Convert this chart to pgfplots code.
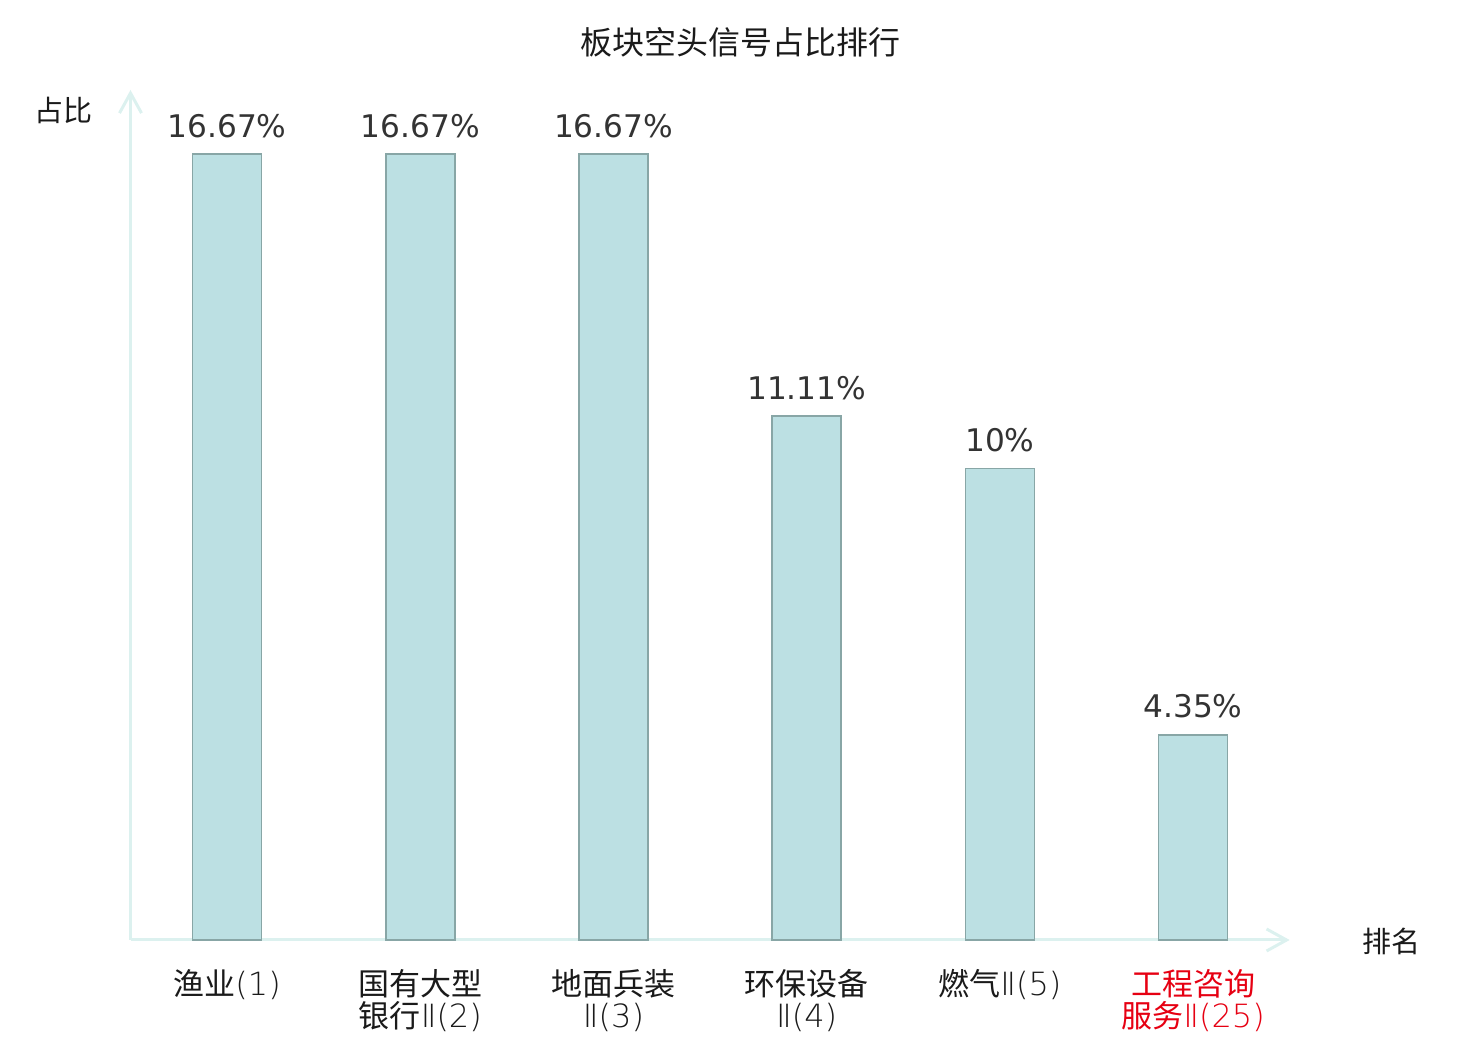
\documentclass[border=0pt]{standalone}
\usepackage{pgfplots}
\pgfplotsset{compat=1.18}
\usetikzlibrary{arrows.meta}
\usepackage{fontspec}
\setmainfont{DejaVu Sans}
\newfontfamily\cjk{Noto Sans CJK SC}
\newfontfamily\thin{DejaVu Sans ExtraLight}
\newcommand{\lat}[1]{{\thin\fontsize{16}{16}\selectfont #1}}
\definecolor{barfill}{HTML}{BCE0E3}
\definecolor{baredge}{HTML}{88A6A6}
\definecolor{axiscol}{HTML}{DCF1EF}
\definecolor{valtext}{HTML}{333333}
\definecolor{lbltext}{HTML}{1A1A1A}
\definecolor{hlred}{HTML}{E60012}
\begin{document}
\begin{tikzpicture}
\path[use as bounding box] (0,0) rectangle (740pt,520pt);
\begin{axis}[
  at={(65.25pt,50pt)}, anchor=south west,
  scale only axis, width=579.6pt, height=425pt,
  xmin=-0.5, xmax=5.5, ymin=0, ymax=18.03,
  axis lines=left,
  axis line style={draw=axiscol, line width=1.5pt, -{Straight Barb[length=10pt,width=11pt,line width=1.5pt]}},
  clip=false,
  xtick={0,1,2,3,4,5},
  xticklabels={{渔业\lat{(1)}},{国有大型\\银行\lat{Ⅱ(2)}},{地面兵装\\\lat{Ⅱ(3)}},{环保设备\\\lat{Ⅱ(4)}},{燃气\lat{Ⅱ(5)}},{\color{hlred}工程咨询\\\color{hlred}服务\lat{Ⅱ(25)}}},
  xticklabel style={font=\cjk\fontsize{15.5}{16}\selectfont, text=lbltext, align=center, anchor=north, yshift=-11pt},
  major tick length=0pt,
  ytick=\empty,
  nodes near coords style={font=\fontsize{15.6}{18}\selectfont, text=valtext, anchor=base, yshift=8.5pt},
]
\addplot[ybar, bar width=34.5pt, fill=barfill, draw=baredge, line width=0.85pt,
  point meta=explicit symbolic, nodes near coords] coordinates {
  (0,16.67) [16.67\%]
  (1,16.67) [16.67\%]
  (2,16.67) [16.67\%]
  (3,11.11) [11.11\%]
  (4,10) [10\%]
  (5,4.35) [4.35\%]
};
\end{axis}
\node[font=\cjk\fontsize{16}{16}\selectfont, text=lbltext] at (370pt,499pt) {板块空头信号占比排行};
\node[font=\cjk\fontsize{14.5}{16}\selectfont, text=lbltext] at (31.5pt,465pt) {占比};
\node[font=\cjk\fontsize{14.5}{16}\selectfont, text=lbltext] at (695.5pt,49.5pt) {排名};
\end{tikzpicture}
\end{document}
